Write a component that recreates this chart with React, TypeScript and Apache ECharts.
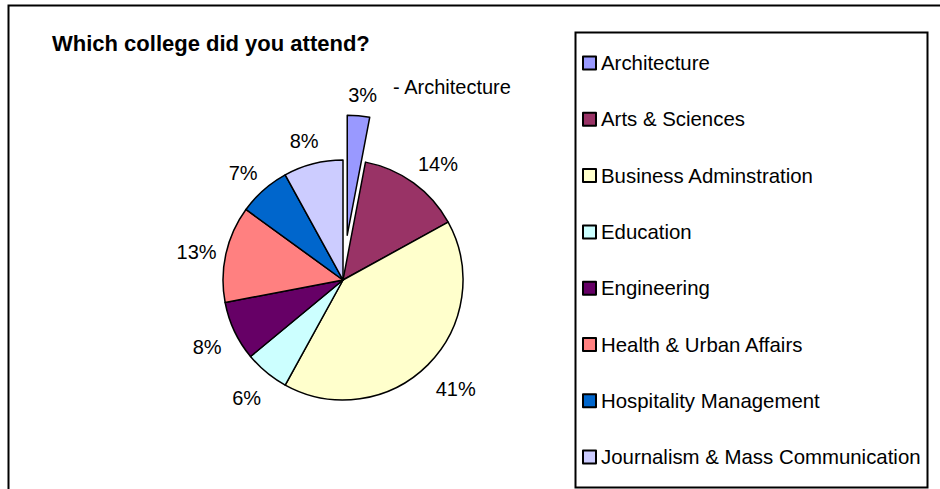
import React, { useEffect, useRef } from 'react';
import * as echarts from 'echarts';

const categories = [
  'Architecture',
  'Arts & Sciences',
  'Business Adminstration',
  'Education',
  'Engineering',
  'Health & Urban Affairs',
  'Hospitality Management',
  'Journalism & Mass Communication',
];
const percents = [3, 14, 41, 6, 8, 13, 7, 8];
const colors = ['#9999FF', '#993366', '#FFFFCC', '#CCFFFF', '#660066', '#FF8080', '#0066CC', '#CCCCFF'];
const explodedIndex = 0;
const titleText = 'Which college did you attend?';

const FONT = '"Liberation Sans", Arial, sans-serif';

export default function App() {
  const ref = useRef<HTMLDivElement>(null);
  useEffect(() => {
    document.body.style.margin = '0';
    const chart = echarts.init(ref.current as HTMLDivElement, null, { renderer: 'svg' });
    chart.setOption({
      animation: false,
      backgroundColor: '#ffffff',
      title: {
        text: titleText,
        left: 52,
        top: 32,
        padding: 0,
        textStyle: { fontFamily: FONT, fontSize: 22, fontWeight: 'bold', color: '#000', lineHeight: 22 },
      },
      legend: {
        orient: 'vertical',
        left: 582,
        top: 53,
        padding: 0,
        itemGap: 36.3,
        itemWidth: 13,
        itemHeight: 13,
        icon: 'rect',
        selectedMode: false,
        itemStyle: { borderColor: '#000', borderWidth: 2 },
        textStyle: { fontFamily: FONT, fontSize: 20.4, color: '#000', lineHeight: 20 },
        data: categories,
      },
      graphic: [
        {
          type: 'rect',
          silent: true,
          shape: { x: 8.5, y: 5.5, width: 1000, height: 1000 },
          style: { fill: 'transparent', stroke: '#000', lineWidth: 2 },
        },
        {
          type: 'rect',
          silent: true,
          shape: { x: 575.5, y: 32.5, width: 352, height: 455 },
          style: { fill: 'transparent', stroke: '#000', lineWidth: 2 },
        },
      ],
      series: [
        {
          type: 'pie',
          center: [343, 280],
          radius: 120,
          startAngle: 90,
          clockwise: true,
          avoidLabelOverlap: false,
          selectedMode: 'single',
          selectedOffset: 45,
          itemStyle: { borderColor: '#000', borderWidth: 1.5 },
          emphasis: { disabled: true },
          label: {
            show: true,
            position: 'outside',
            fontFamily: FONT,
            fontSize: 20,
            color: '#000',
            formatter: (p: any) =>
              p.dataIndex === explodedIndex ? `{p|${p.value}%}{n|- ${p.name}}` : `{p|${p.value}%}`,
            rich: {
              p: { fontFamily: FONT, fontSize: 20, color: '#000', lineHeight: 20 },
              n: { fontFamily: FONT, fontSize: 20, color: '#000', lineHeight: 20, padding: [0, 0, 16, 16] },
            },
          },
          labelLine: { show: false, length: 28, length2: 0 },
          labelLayout: (p: any) =>
            p.dataIndex === explodedIndex
              ? { align: 'left', dx: -18, dy: 7 }
              : { align: 'center', dx: 3, dy: 4 },
          data: categories.map((name, i) => ({
            name,
            value: percents[i],
            selected: i === explodedIndex,
            itemStyle: { color: colors[i] },
          })),
        },
      ],
    });
    return () => chart.dispose();
  }, []);
  return <div ref={ref} style={{ width: 940, height: 489 }} />;
}
